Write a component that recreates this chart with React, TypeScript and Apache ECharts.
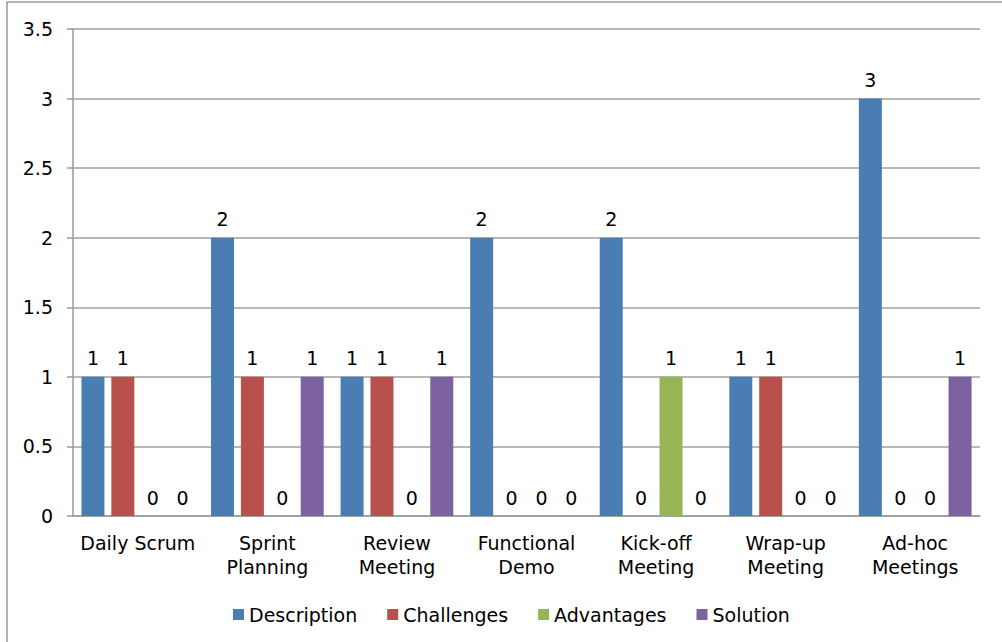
import React, { useEffect, useRef } from "react";
import * as echarts from "echarts";

const categories = [
  "Daily Scrum",
  "Sprint\nPlanning",
  "Review\nMeeting",
  "Functional\nDemo",
  "Kick-off\nMeeting",
  "Wrap-up\nMeeting",
  "Ad-hoc\nMeetings",
];
const description = [1, 2, 1, 2, 2, 1, 3];
const challenges = [1, 1, 1, 0, 0, 1, 0];
const advantages = [0, 0, 0, 0, 1, 0, 0];
const solution = [0, 1, 1, 0, 0, 0, 1];

const seriesNames = ["Description", "Challenges", "Advantages", "Solution"];
const seriesData = [description, challenges, advantages, solution];
const colors = ["#4A7EB2", "#B8504C", "#95B556", "#7D62A0"];

const FONT = "DejaVu Sans, Liberation Sans, Arial, sans-serif";

export default function App() {
  const ref = useRef<HTMLDivElement>(null);
  useEffect(() => {
    if (!ref.current) return;
    const chart = echarts.init(ref.current, null, { renderer: "svg" });
    chart.setOption({
      animation: false,
      backgroundColor: "#ffffff",
      textStyle: { fontFamily: FONT },
      graphic: [
        {
          type: "rect",
          shape: { x: 7, y: 2, width: 1010, height: 660 },
          style: { fill: "none", stroke: "#9a9a9a", lineWidth: 1.5 },
          silent: true,
        },
      ],
      grid: { left: 73, right: 22, top: 29, height: 487 },
      legend: {
        left: 228,
        top: 600,
        itemWidth: 11,
        itemHeight: 11,
        itemGap: 30,
        icon: "rect",
        textStyle: { fontSize: 19, color: "#000", fontFamily: FONT, padding: [0, 0, 0, 0] },
        data: seriesNames,
      },
      xAxis: {
        type: "category",
        data: categories,
        axisLine: { lineStyle: { color: "#9a9a9a", width: 1.5 } },
        axisTick: { show: false },
        axisLabel: {
          color: "#000",
          fontSize: 19,
          lineHeight: 24,
          margin: 15,
          interval: 0,
          fontFamily: FONT,
        },
      },
      yAxis: {
        type: "value",
        min: 0,
        max: 3.5,
        interval: 0.5,
        axisLine: { show: true, lineStyle: { color: "#9a9a9a", width: 1.5 } },
        axisTick: { show: true, length: 6, lineStyle: { color: "#9a9a9a", width: 1.5 } },
        splitLine: { lineStyle: { color: "#a0a0a0", width: 1.5 } },
        axisLabel: { color: "#000", fontSize: 19, margin: 20, fontFamily: FONT },
      },
      series: seriesNames.map((name, i) => ({
        name,
        type: "bar",
        data: seriesData[i],
        barWidth: 23,
        barGap: "30%",
        itemStyle: { color: colors[i] },
        label: {
          show: true,
          position: "top",
          color: "#000",
          fontSize: 19,
          distance: 9,
          fontFamily: FONT,
        },
      })),
    });
    return () => chart.dispose();
  }, []);
  return (
    <div
      ref={ref}
      style={{ position: "fixed", left: 0, top: 0, width: 1002, height: 642 }}
    />
  );
}
